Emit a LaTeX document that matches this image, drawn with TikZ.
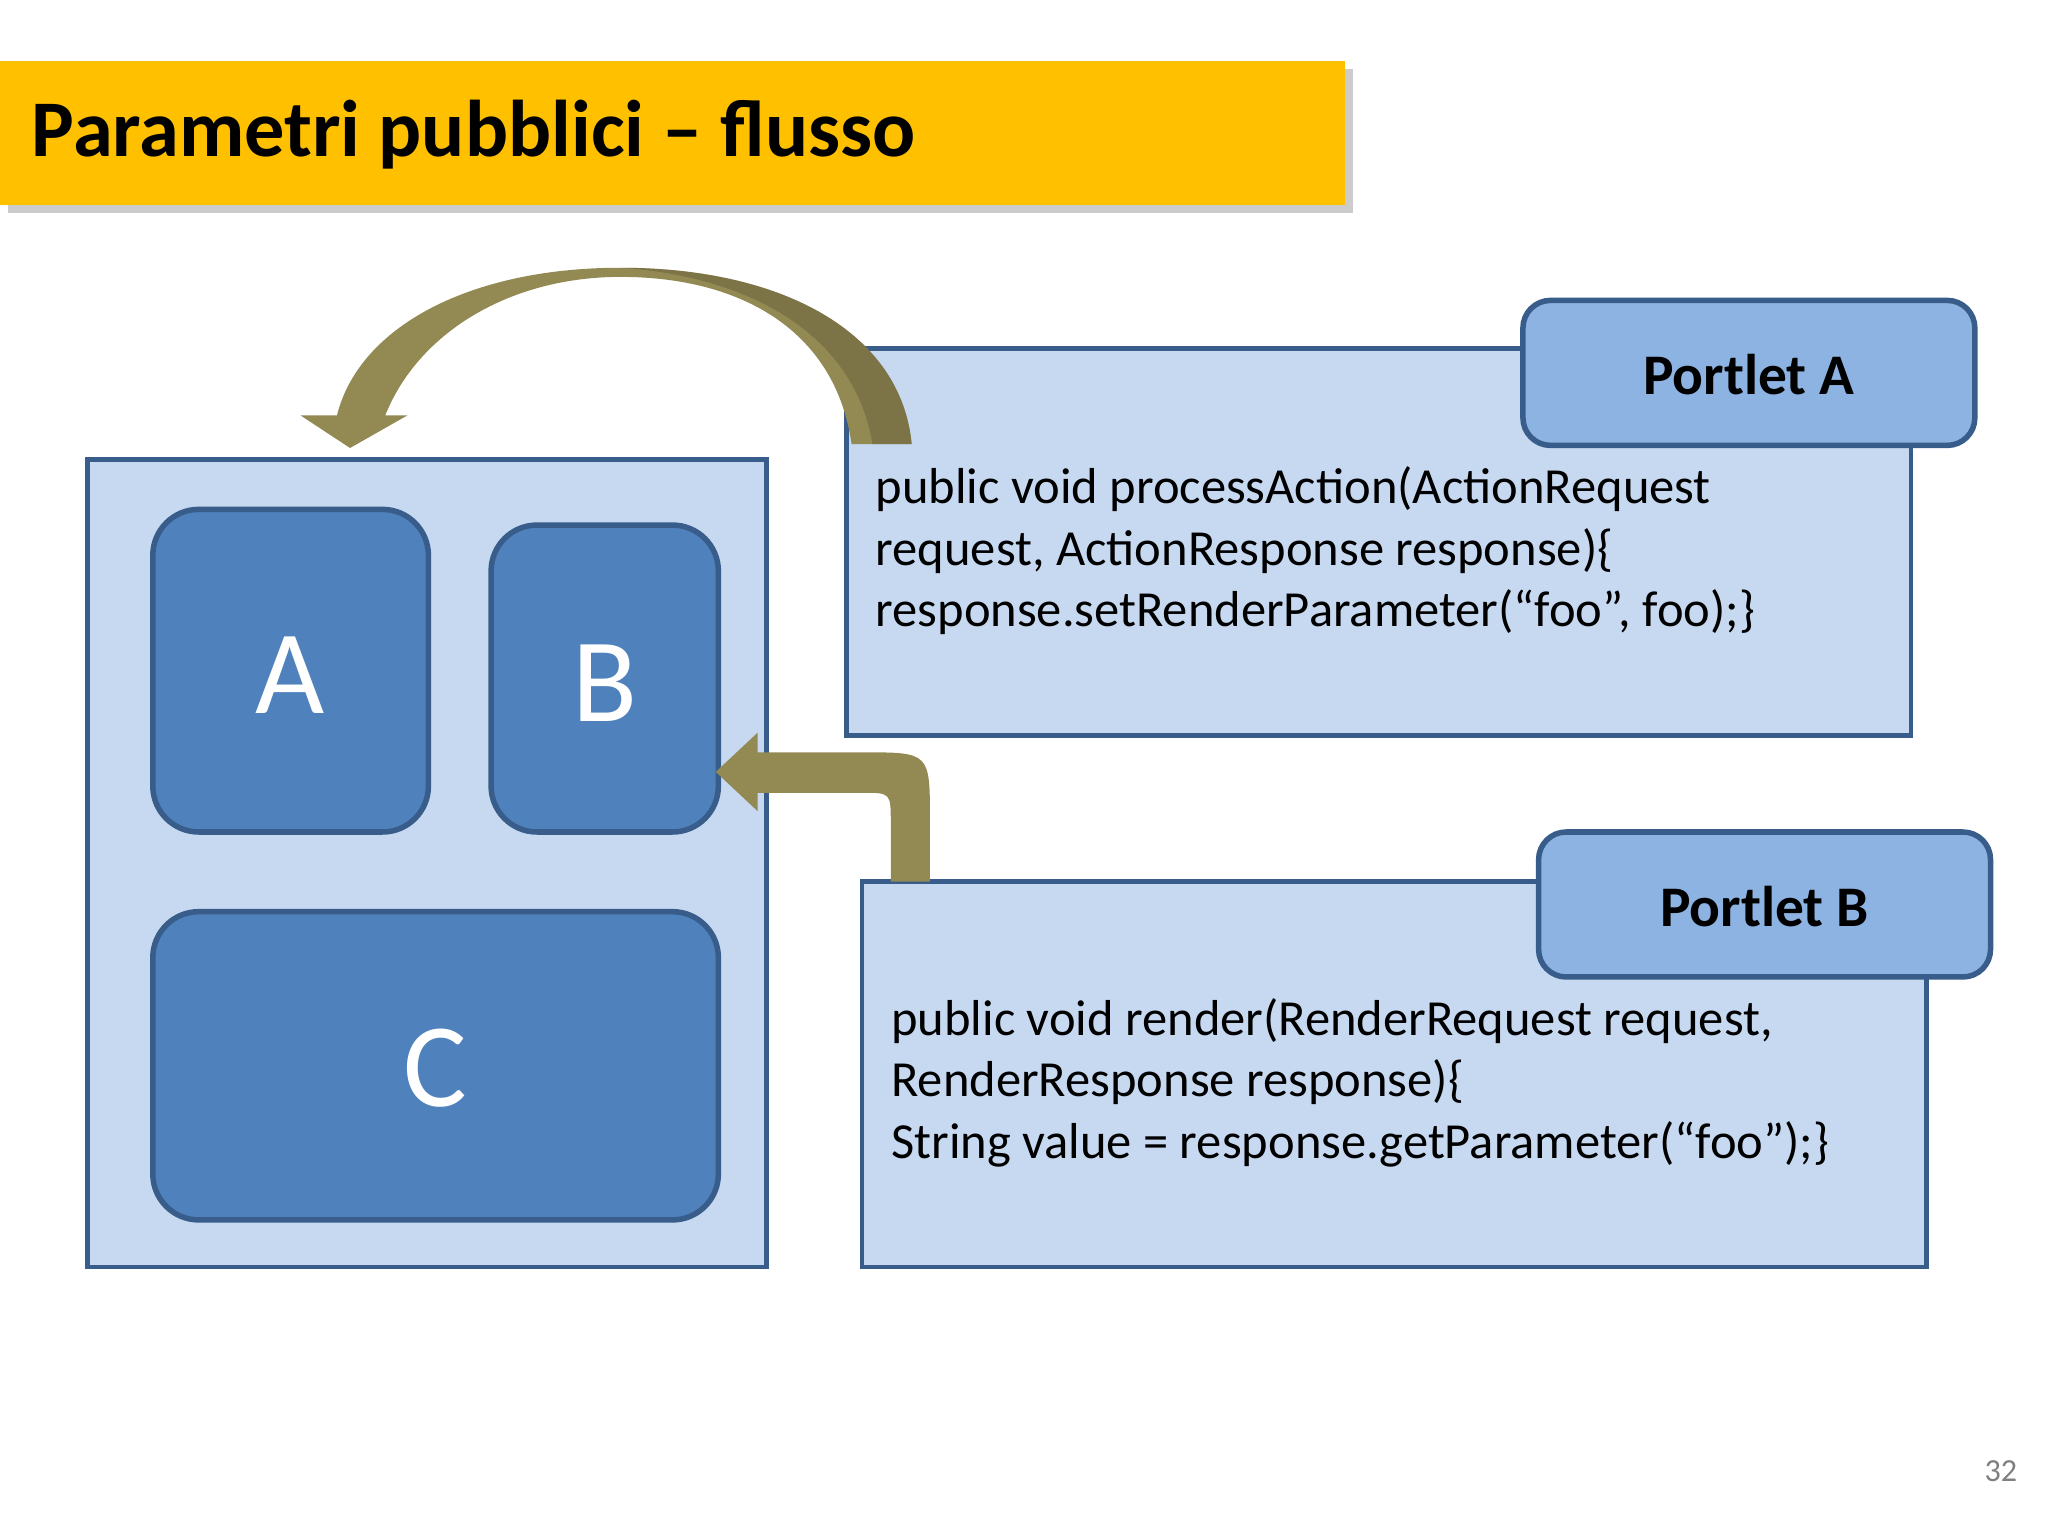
\documentclass[tikz,border=0pt]{standalone}
\usepackage{fontspec}
\setmainfont{Carlito}
\definecolor{ttl}{HTML}{FFC000}
\definecolor{lb}{HTML}{C6D9F1}
\definecolor{mb}{HTML}{4F81BD}
\definecolor{tb}{HTML}{8DB3E2}
\definecolor{bd}{HTML}{385D8A}
\definecolor{ol}{HTML}{938953}
\tikzset{
 panel/.style={fill=lb,draw=bd,line width=1pt},
 blk/.style={fill=mb,draw=bd,line width=1.2pt,rounded corners=10pt},
 tab/.style={fill=tb,draw=bd,line width=1.2pt,rounded corners=6pt},
 blkt/.style={text=white,font=\fontsize{26}{30}\selectfont},
 code/.style={anchor=north west,align=left,font=\fontsize{11}{13.4}\selectfont},
 arr/.style={fill=ol}
}
\begin{document}
\begin{tikzpicture}[x=0.01cm,y=-0.01cm]
\useasboundingbox (0,0) rectangle (1568,1176);
\fill[white] (0,0) rectangle (1568,1176);
% title
\fill[gray!40] (6,53) rectangle (1036,163);
\fill[ttl] (0,47) rectangle (1030,157);
\node[anchor=west,font=\bfseries\fontsize{17.5}{20}\selectfont] (title) at (12,103) {Parametri pubblici – flusso};
% left page
\draw[panel] (67,352) rectangle (587,970);
\draw[blk] (117,390) rectangle (328,637); \node[blkt] (a) at (222,517) {A};
\draw[blk] (376,402) rectangle (550,637); \node[blkt] (b) at (463,523) {B};
\draw[blk] (117,698) rectangle (550,934); \node[blkt] (c) at (333,818) {C};
% portlet A
\draw[panel] (648,267) rectangle (1463,563);
\draw[tab] (1166,230) rectangle (1512,341);
\node[font=\bfseries\fontsize{12.5}{15}\selectfont] (pa) at (1339,287) {Portlet A};
\node[code] (ca) at (658,345) {public void processAction(ActionRequest\\request, ActionResponse response)\{\\response.setRenderParameter(“foo", foo);\}};
% portlet B
\draw[panel] (660,675) rectangle (1475,970);
\draw[tab] (1178,637) rectangle (1524,748);
\node[font=\bfseries\fontsize{12.5}{15}\selectfont] (pb) at (1351,694) {Portlet B};
\node[code] (cb) at (670,752) {public void render(RenderRequest request,\\RenderResponse response)\{\\String value = response.getParameter(“foo");\}};
% curved arrow
\fill[arr] (698,340) .. controls (690,255) and (600,205) .. (475,205)
  .. controls (360,205) and (275,250) .. (258,318) -- (230,318) -- (268,343) -- (312,318) -- (295,318)
  .. controls (320,255) and (390,212) .. (475,212)
  .. controls (570,212) and (640,255) .. (652,340) -- cycle;
\fill[ol!70!black,opacity=0.5] (698,340) .. controls (690,255) and (600,205) .. (475,205)
  .. controls (580,212) and (655,260) .. (668,340) -- cycle;
% bent arrow
\fill[arr] (682,675) -- (682,630) .. controls (682,607) .. (660,607) -- (580,607) -- (580,621) -- (548,591) -- (580,561) -- (580,576) -- (660,576) .. controls (712,576) .. (712,628) -- (712,675) -- cycle;
\node[text=gray,font=\fontsize{7}{8}\selectfont] (pg) at (1532,1126) {32};
\end{tikzpicture}
\end{document}
